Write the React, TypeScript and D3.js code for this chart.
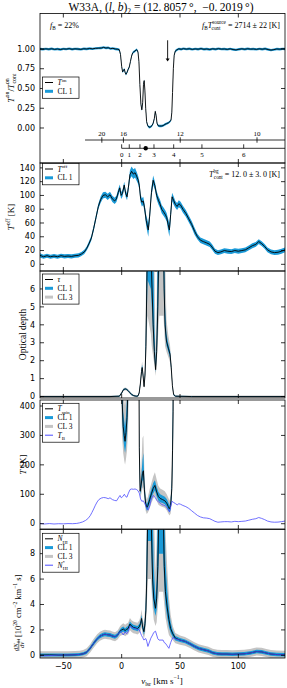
import React from 'react';
import * as d3 from 'd3';

// shared velocity axis
const vDomain = [-70, 140];
const vTicks = [-50, 0, 50, 100];

// T_on / T_on_cont : [v, value]
const tOn = [
  [-70, 1.0], [-67.5, 0.996], [-65, 1.002], [-62.5, 0.997], [-60, 1.003], [-57.5, 0.995], [-55, 1.0], [-52.5, 0.993],
  [-50, 1.001], [-47.5, 0.998], [-45, 1.004], [-42.5, 0.996], [-40, 1.002], [-37.5, 0.999], [-35, 0.995], [-32.5, 1.003],
  [-30, 1.0], [-27.5, 1.006], [-25, 1.002], [-22.5, 1.008], [-20, 1.01], [-17.5, 1.012], [-15.5, 1.02], [-13.5, 1.012],
  [-11.5, 1.016], [-9.5, 1.004], [-7.5, 1.008], [-5.5, 1.0], [-3.5, 0.996], [-2, 0.99], [-1, 0.93], [0, 0.78],
  [0.8, 0.71], [1.6, 0.73], [2.3, 0.745], [3, 0.7], [3.7, 0.68], [4.5, 0.7], [5.5, 0.74], [6.5, 0.77], [7.5, 0.84],
  [8.5, 0.91], [9.4, 0.95], [10.5, 0.965], [11.5, 0.975], [12.5, 0.99], [13.3, 0.985], [14, 0.96], [14.8, 0.84],
  [15.6, 0.55], [16.5, 0.3], [17.3, 0.23], [18, 0.32], [18.7, 0.55], [19.3, 0.6], [19.9, 0.48], [20.6, 0.25],
  [21.4, 0.08], [22.3, 0.03], [23.5, 0.01], [24.8, 0.015], [26, 0.03], [27, 0.06], [28, 0.12], [28.8, 0.21],
  [29.5, 0.16], [30.3, 0.06], [31.2, 0.03], [32.5, 0.025], [34, 0.025], [35.5, 0.03], [37, 0.045], [38.5, 0.055],
  [40, 0.065], [41.3, 0.08], [42.3, 0.1], [43, 0.2], [43.6, 0.45], [44.3, 0.75], [45, 0.92], [46, 0.975], [47.5, 0.99],
  [49, 1.002], [51, 0.996], [53, 1.004], [55.5, 0.998], [58, 1.003], [60.5, 0.995], [63, 1.001], [65.5, 0.997],
  [68, 1.004], [70.5, 0.996], [73, 1.0], [75.5, 0.994], [78, 1.002], [80.5, 0.997], [83, 1.004], [85.5, 0.998],
  [88, 1.0], [90.5, 0.995], [93, 1.002], [95.5, 0.993], [98, 0.988], [100.5, 0.996], [103, 1.002], [105.5, 0.996],
  [108, 1.003], [110.5, 0.998], [113, 1.0], [115.5, 0.995], [118, 1.002], [120.5, 0.997], [123, 1.003], [125.5, 0.993],
  [128, 0.986], [130.5, 0.992], [133, 1.0], [135.5, 0.997], [138, 1.002], [140, 1.0],
];
const tOnErr = 0.015;

// T_off [v, K, CL1 half width]
const tOff = [
  [-70, 13, 3], [-67, 11, 3], [-64, 12.5, 3], [-61, 11, 3], [-58, 12, 3], [-55, 11, 3], [-52, 12.5, 3], [-49, 11.5, 3],
  [-46, 12, 3], [-43, 11.5, 3], [-40, 12.5, 3], [-37, 13, 3], [-34.5, 15, 3], [-32, 18, 3], [-30, 23, 3], [-28, 30, 3.5],
  [-26, 38, 3.5], [-24, 52, 4], [-22, 68, 4], [-20, 84, 4], [-18, 94, 4.5], [-16, 100, 4.5], [-14, 101, 4.5],
  [-12, 98, 4.5], [-10, 101, 4.5], [-8, 95, 4.5], [-6, 92, 4.5], [-4.5, 95, 4.5], [-3, 104, 5], [-1.6, 111, 5],
  [-0.5, 100, 5], [0.7, 103, 5], [2.2, 115, 5], [3.4, 103, 5], [4.6, 98, 5], [5.8, 112, 5.5], [7.1, 130, 6.5],
  [8.5, 135, 7], [10, 131, 7], [11.5, 133, 7], [12.8, 128, 6.5], [14, 123, 6], [15.1, 115, 6], [16.2, 96, 6],
  [17.3, 90, 6], [18.5, 92, 6], [19.6, 82, 6], [21, 64, 8], [22.8, 50, 10], [24, 70, 8], [25.5, 104, 7], [27, 122, 7],
  [28.5, 114, 6], [30, 100, 6], [31.5, 93, 6], [32.8, 88, 6], [34.3, 80, 6], [36, 76, 6], [37.5, 72, 6], [38.6, 68, 6],
  [39.8, 58, 8], [40.9, 50, 10], [42, 72, 8], [43.2, 98, 6], [44.5, 93, 6], [46, 87, 5], [47.5, 84, 5], [49, 88, 5],
  [50.5, 86, 5], [52.5, 80, 5], [55, 74, 5], [57.5, 66, 5], [60, 58, 5], [62.5, 48, 5], [65, 40, 4], [67.5, 35, 4],
  [70, 33, 4], [73, 31, 4], [75.5, 29, 4], [77.5, 25, 4], [80, 19, 3.5], [82.5, 17, 3.5], [85, 18, 3.5], [88, 20, 3.5],
  [91, 19, 3.5], [94, 18.5, 3.5], [97, 20, 3.5], [100, 19, 3.5], [103, 20, 3.5], [106, 21, 3.5], [109, 24, 3.5],
  [112, 27, 3.5], [115, 29, 3.5], [117.5, 33, 3.5], [120, 30, 3.5], [122.5, 26, 3.5], [125, 21, 3.5], [128, 18, 3.5],
  [131, 17, 3.5], [134, 17.5, 3.5], [137, 19, 3.5], [140, 21, 3.5],
];

// optical depth [v, tau, CL1 lo, CL1 hi, CL3 lo, CL3 hi]
const tau = [
  [-70, 0, -0.03, 0.03, -0.06, 0.06], [-40, 0, -0.03, 0.03, -0.06, 0.06], [-10, 0, -0.03, 0.03, -0.06, 0.06],
  [-2, 0.02, -0.01, 0.05, -0.04, 0.08], [0, 0.2, 0.16, 0.24, 0.12, 0.28], [1.5, 0.38, 0.34, 0.42, 0.3, 0.46],
  [3, 0.43, 0.39, 0.47, 0.35, 0.51], [4.2, 0.4, 0.36, 0.44, 0.32, 0.48], [5.5, 0.33, 0.29, 0.37, 0.25, 0.41],
  [7, 0.22, 0.18, 0.26, 0.14, 0.3], [8.5, 0.12, 0.08, 0.16, 0.05, 0.19], [10, 0.06, 0.03, 0.09, 0, 0.12],
  [11.5, 0.03, 0, 0.06, -0.03, 0.09], [13, 0.02, -0.01, 0.05, -0.04, 0.08], [14, 0.04, 0.01, 0.07, -0.02, 0.1],
  [15, 0.2, 0.15, 0.25, 0.1, 0.3], [16, 0.7, 0.62, 0.8, 0.55, 0.9], [17, 1.4, 1.28, 1.55, 1.15, 1.7],
  [17.6, 1.62, 1.48, 1.78, 1.35, 1.95], [18.3, 1.2, 1.1, 1.32, 1.0, 1.45], [19.2, 0.55, 0.5, 0.62, 0.45, 0.7],
  [20, 1.2, 1.05, 1.45, 0.9, 1.8], [20.8, 2.8, 2.3, 4, 1.9, 6], [21.5, 6, 4.5, 9, 3.5, 12], [22.2, 9, 6.5, 12, 4.5, 12],
  [25, 9, 6, 12, 3.5, 12], [25.8, 6.5, 5, 12, 2.8, 12], [27, 4, 3.3, 9, 2.2, 12], [28, 2.5, 2.2, 4, 1.8, 8],
  [29.1, 1.5, 1.35, 1.8, 1.15, 2.3], [30, 2.5, 2.2, 3.5, 1.8, 5], [31, 5, 4, 9, 3, 12], [31.6, 7.5, 6, 12, 4, 12],
  [32.3, 9, 7, 12, 4.5, 12], [35.8, 9, 7, 12, 4.5, 12], [36.4, 6, 5, 9, 3.8, 12], [37.2, 4, 3.5, 5, 2.8, 8],
  [38.4, 3.1, 2.85, 3.5, 2.5, 4.3], [40, 2.7, 2.5, 2.95, 2.2, 3.4], [41.5, 2.35, 2.15, 2.55, 1.9, 2.85],
  [42.5, 1.6, 1.45, 1.75, 1.3, 1.9], [43.5, 0.6, 0.52, 0.68, 0.45, 0.75], [44.5, 0.12, 0.08, 0.16, 0.04, 0.2],
  [46, 0.02, -0.01, 0.05, -0.04, 0.08], [60, 0, -0.03, 0.03, -0.06, 0.06], [100, 0, -0.03, 0.03, -0.06, 0.06],
  [140, 0, -0.03, 0.03, -0.06, 0.06],
];

// spin temperature where defined [v, K, CL1 lo, CL1 hi, CL3 lo, CL3 hi]
const tSpinA = [
  [-0.8, 900, 700, 900, 500, 900], [0.3, 430, 370, 520, 300, 700], [1.3, 330, 290, 380, 240, 470],
  [2.2, 300, 260, 350, 215, 420], [2.9, 280, 240, 330, 200, 400], [3.7, 310, 265, 365, 220, 440],
  [4.6, 360, 310, 430, 250, 540], [5.5, 480, 400, 600, 320, 800], [6.3, 900, 700, 900, 500, 900],
];
const tSpinB = [
  [14.4, 900, 900, 900, 900, 900], [15.1, 260, 200, 340, 160, 450], [15.8, 110, 98, 125, 85, 145],
  [16.8, 135, 118, 158, 100, 190], [17.8, 170, 145, 215, 120, 290], [18.6, 180, 150, 240, 125, 300],
  [19.5, 115, 98, 140, 80, 175], [20.5, 70, 58, 84, 45, 100], [21.5, 55, 44, 67, 33, 82], [22.5, 62, 50, 75, 38, 92],
  [24, 82, 68, 98, 52, 118], [25.5, 102, 87, 118, 70, 138], [27, 120, 103, 138, 85, 160], [28.5, 130, 113, 148, 95, 175],
  [30, 108, 93, 126, 78, 150], [31.5, 92, 78, 108, 64, 128], [33, 86, 73, 100, 60, 120], [35, 82, 70, 96, 57, 115],
  [37, 78, 66, 92, 54, 110], [38.6, 70, 58, 84, 46, 100], [40, 58, 46, 72, 35, 88], [41, 50, 38, 62, 28, 78],
  [42, 62, 48, 78, 35, 100], [43, 120, 95, 150, 75, 200], [43.6, 250, 200, 330, 160, 450],
  [44.1, 380, 300, 500, 250, 700], [44.6, 900, 900, 900, 900, 900],
];

// brightness temperature [v, K]
const tB = [
  [-70, 1], [-66, -1], [-62, 0.5], [-58, -1], [-54, 0], [-50, -0.5], [-46, 0.5], [-42, 0], [-38.5, 1], [-36, 3],
  [-33.5, 6], [-31, 11], [-29, 17], [-27, 27], [-25.5, 38], [-24, 50], [-22.5, 63], [-21, 74], [-19.5, 82],
  [-17.5, 87], [-15.5, 89], [-13.5, 88], [-11.5, 85], [-10, 88], [-8, 82], [-6, 79], [-4.3, 78], [-2.8, 88],
  [-1.4, 96], [-0.3, 88], [0.9, 92], [2.3, 100], [3.5, 92], [4.5, 90], [5.8, 104], [7.2, 116], [8.5, 118], [10, 117],
  [11.5, 118], [12.8, 116], [14, 112], [15.1, 104], [16.2, 84], [17.3, 76], [18.5, 78], [19.6, 70], [21, 58],
  [22.6, 46], [24, 60], [25.5, 84], [27, 96], [28.6, 90], [30, 80], [31.5, 74], [33, 70], [34.5, 65], [36, 63],
  [37.5, 60], [38.8, 55], [40, 46], [41, 40], [42, 58], [43.2, 76], [44.6, 72], [46.2, 68], [47.6, 64], [49, 68],
  [50.5, 66], [52.5, 62], [55, 58], [57.5, 52], [60, 44], [62.5, 36], [65, 28], [67.5, 23], [70, 20], [73, 19],
  [75.5, 17], [78, 12], [80, 8], [82.5, 5], [85, 6], [88, 7], [91, 7], [94, 6], [97, 8], [100, 7], [103, 8], [106, 9],
  [109, 12], [112, 15], [115, 17], [117.5, 21], [120, 18], [122.5, 14], [125, 9], [128, 6], [131, 5], [134, 5.5],
  [137, 7], [140, 9],
];

// column density per velocity [v, 1e20, CL1 lo, CL1 hi, CL3 lo, CL3 hi]
const nHI = [
  [-70, 0.02, -0.1, 0.14, -0.28, 0.32], [-62, 0.03, -0.09, 0.15, -0.27, 0.33], [-54, 0.02, -0.1, 0.14, -0.28, 0.32],
  [-46, 0.03, -0.09, 0.15, -0.27, 0.33], [-40, 0.04, -0.08, 0.16, -0.26, 0.34], [-36, 0.07, -0.05, 0.19, -0.23, 0.37],
  [-33, 0.12, 0, 0.24, -0.18, 0.42], [-30, 0.24, 0.11, 0.37, -0.08, 0.56], [-27, 0.55, 0.41, 0.69, 0.22, 0.88],
  [-25, 0.82, 0.67, 0.97, 0.48, 1.16], [-23, 1.07, 0.92, 1.22, 0.72, 1.42], [-21, 1.3, 1.15, 1.45, 0.95, 1.65],
  [-18.6, 1.5, 1.35, 1.65, 1.15, 1.85], [-16, 1.62, 1.47, 1.77, 1.27, 1.97], [-14.3, 1.66, 1.51, 1.81, 1.31, 2.01],
  [-12, 1.62, 1.47, 1.77, 1.27, 1.97], [-10, 1.6, 1.45, 1.75, 1.25, 1.95], [-8, 1.52, 1.37, 1.67, 1.17, 1.87],
  [-5.7, 1.46, 1.31, 1.61, 1.11, 1.81], [-3.5, 1.6, 1.45, 1.75, 1.25, 1.95], [-1.4, 1.9, 1.74, 2.06, 1.52, 2.28],
  [0, 2.0, 1.82, 2.18, 1.58, 2.42], [1.4, 2.07, 1.88, 2.26, 1.62, 2.52], [3, 1.95, 1.76, 2.14, 1.5, 2.4],
  [4.3, 2.05, 1.85, 2.25, 1.6, 2.5], [5.5, 2.1, 1.9, 2.3, 1.64, 2.56], [7.1, 2.46, 2.25, 2.67, 1.98, 2.94],
  [8.5, 2.3, 2.1, 2.5, 1.84, 2.76], [10, 2.2, 2.0, 2.4, 1.74, 2.66], [12, 2.15, 1.95, 2.35, 1.7, 2.6],
  [13.5, 2.1, 1.9, 2.3, 1.64, 2.56], [15.1, 2.25, 2.03, 2.47, 1.75, 2.75], [16.2, 2.5, 2.25, 2.75, 1.9, 3.1],
  [17.1, 2.9, 2.6, 3.2, 2.2, 3.6], [18, 2.2, 1.95, 2.45, 1.65, 2.8], [19.1, 1.86, 1.6, 2.15, 1.3, 2.5],
  [20, 2.5, 2.1, 3.0, 1.7, 3.6], [20.8, 3.55, 3.0, 4.6, 2.4, 6.0], [21.5, 6, 4.8, 9, 3.8, 12], [22.5, 12, 9, 15, 6, 15],
  [25, 12, 9, 15, 6, 15], [26.5, 6, 4.8, 12, 3.8, 15], [27.5, 4.5, 3.7, 7, 2.8, 12], [29, 3.7, 3.1, 4.5, 2.3, 6.5],
  [30, 4.5, 3.6, 6, 2.6, 9], [31, 7, 5.5, 12, 3.8, 15], [32, 12, 8, 15, 5, 15], [35.5, 12, 8, 15, 5, 15],
  [36.5, 7, 5.5, 12, 4, 15], [37.5, 5, 4.0, 7.5, 3.0, 10], [39, 3.8, 3.0, 5.2, 2.2, 7], [40.5, 2.8, 2.2, 3.6, 1.6, 4.6],
  [42, 2.1, 1.75, 2.6, 1.4, 3.2], [43.8, 1.7, 1.45, 1.95, 1.2, 2.3], [46, 1.35, 1.17, 1.53, 0.95, 1.75],
  [50, 1.2, 1.04, 1.36, 0.84, 1.56], [54.3, 1.1, 0.95, 1.25, 0.76, 1.44], [58.6, 0.9, 0.75, 1.05, 0.57, 1.23],
  [62, 0.72, 0.57, 0.87, 0.4, 1.04], [66, 0.55, 0.4, 0.7, 0.23, 0.87], [70, 0.45, 0.3, 0.6, 0.13, 0.77],
  [74.3, 0.35, 0.2, 0.5, 0.03, 0.67], [78, 0.2, 0.06, 0.34, -0.12, 0.52], [82, 0.12, -0.02, 0.26, -0.2, 0.44],
  [86, 0.1, -0.04, 0.24, -0.22, 0.42], [90, 0.1, -0.04, 0.24, -0.22, 0.42], [95, 0.08, -0.06, 0.22, -0.24, 0.4],
  [100, 0.1, -0.04, 0.24, -0.22, 0.42], [105, 0.12, -0.02, 0.26, -0.2, 0.44], [110, 0.18, 0.04, 0.32, -0.14, 0.5],
  [115.7, 0.3, 0.16, 0.44, -0.02, 0.62], [120, 0.27, 0.13, 0.41, -0.05, 0.59], [124, 0.18, 0.04, 0.32, -0.14, 0.5],
  [128, 0.1, -0.04, 0.24, -0.22, 0.42], [133, 0.06, -0.08, 0.2, -0.26, 0.38], [140, 0.05, -0.09, 0.19, -0.27, 0.37],
];

// optically thin column density [v, 1e20]
const nHIThin = [
  [-70, -0.04], [-62, -0.02], [-54, 0.02], [-46, 0.03], [-40, 0.04], [-36, 0.07], [-33, 0.12], [-30, 0.24],
  [-27, 0.55], [-25, 0.82], [-23, 1.07], [-21, 1.3], [-18.6, 1.5], [-16, 1.62], [-14.3, 1.66], [-12, 1.62],
  [-10, 1.6], [-8, 1.52], [-5.7, 1.46], [-3.5, 1.6], [-1.4, 1.88], [0, 1.8], [1.4, 1.6], [3, 1.85], [4.3, 1.7],
  [5.5, 1.85], [7.1, 2.3], [8.5, 2.2], [10, 2.15], [12, 2.1], [13.5, 2.05], [15.1, 2.0], [16.2, 1.75], [17.1, 1.55],
  [18, 1.4], [19.1, 1.2], [20, 1.3], [20.8, 1.3], [21.5, 1.1], [22.5, 0.7], [25, 1.35], [26.5, 1.6], [27.5, 1.8],
  [29, 1.9], [30, 1.6], [31, 1.3], [32, 1.2], [35.5, 1.2], [36.5, 1.0], [37.5, 0.95], [39, 0.75], [40.5, 0.55],
  [42, 1.0], [43.8, 1.4], [46, 1.3], [50, 1.2], [54.3, 1.1], [58.6, 0.9], [62, 0.72], [66, 0.55], [70, 0.45],
  [74.3, 0.35], [78, 0.2], [82, 0.12], [86, 0.1], [90, 0.1], [95, 0.08], [100, 0.1], [105, 0.12], [110, 0.18],
  [115.7, 0.3], [120, 0.27], [124, 0.18], [128, 0.1], [133, 0.06], [140, 0.05],
];

// distance scales: label and matching v_lsr
const rGalLabels = ['20', '16', '12', '10'];
const rGalV = [-17, 1.5, 50.2, 116];
const rGalStartV = -31.4;
const dSunLabels = ['0', '1', '2', '3', '4', '5', '6'];
const dSunV = [0, 6.5, 15.7, 27.7, 44.6, 68.8, 104.6];
const sourceV = 20.6;
const tangentV = 39.4;

const BLUE = '#1a9ad8';
const GREY = '#c4c4c4';
const PURPLE = '#4b4bff';

const X0 = 40;
const X1 = 285;
const x = d3.scaleLinear().domain(vDomain).range([X0, X1]);

type Seg = string | { b: string; it?: boolean; sup?: string; sub?: string };
// small LaTeX-like helper: italic base with stacked super/subscripts
function mt(segs: Seg[], fs: number) {
  const s = fs * 0.65;
  const cw = s * 0.46;
  const out: React.ReactNode[] = [];
  let off = 0;
  let pend = 0;
  segs.forEach((g, i) => {
    const seg = typeof g === 'string' ? { b: g, it: false } : g;
    out.push(
      <tspan key={`b${i}`} dx={pend || undefined} dy={off || undefined} fontSize={fs}
        fontStyle={seg.it === false ? 'normal' : 'italic'}>{seg.b}</tspan>
    );
    off = 0;
    pend = 0;
    if (seg.sup) {
      out.push(<tspan key={`p${i}`} dy={-fs * 0.48} fontSize={s} fontStyle="normal">{seg.sup}</tspan>);
      off = fs * 0.48;
    }
    if (seg.sub) {
      const dx = seg.sup ? -seg.sup.length * cw : 0;
      out.push(<tspan key={`s${i}`} dx={dx || undefined} dy={off + fs * 0.3} fontSize={s} fontStyle="normal">{seg.sub}</tspan>);
      off = -fs * 0.3;
      if (seg.sup && seg.sup.length > seg.sub.length) pend = (seg.sup.length - seg.sub.length) * cw + 0.8;
    }
  });
  return out;
}

type Item = { kind: 'line' | 'band'; color: string; label: Seg[] };
function Legend({ top, items }: { top: number; items: Item[] }) {
  const h = 12.5 + 8.8 * (items.length - 1);
  return (
    <g>
      <rect x={42.5} y={top} width={36.5} height={h} fill="#fff" stroke="#000" strokeWidth={0.7} />
      {items.map((it, i) => {
        const yy = top + 5.5 + 8.8 * i;
        return (
          <g key={i}>
            <line x1={45} x2={53} y1={yy} y2={yy} stroke={it.color} strokeWidth={it.kind === 'band' ? 3 : 1} />
            <text x={57.5} y={yy + 2.6} fontSize={7.5}>{mt(it.label, 7.5)}</text>
          </g>
        );
      })}
    </g>
  );
}

function Frame({ y, top, bottom, ticks, fmt }: any) {
  return (
    <g stroke="#000" strokeWidth={0.8}>
      <rect x={X0} y={top} width={X1 - X0} height={bottom - top} fill="none" />
      {ticks.map((t: number) => (
        <g key={t}>
          <line x1={X0} x2={X0 + 4} y1={y(t)} y2={y(t)} />
          <line x1={X1 - 4} x2={X1} y1={y(t)} y2={y(t)} />
          <text x={35} y={y(t)} dy="0.34em" textAnchor="end" stroke="none" fill="#000"
            fontFamily="DejaVu Sans" fontSize={8}>{fmt(t)}</text>
        </g>
      ))}
      {vTicks.map(v => (
        <g key={v}>
          <line x1={x(v)} x2={x(v)} y1={top} y2={top + 4} />
          <line x1={x(v)} x2={x(v)} y1={bottom - 4} y2={bottom} />
        </g>
      ))}
    </g>
  );
}

function YLabel({ cx, cy, segs, fs = 9 }: { cx: number; cy: number; segs: Seg[]; fs?: number }) {
  return (
    <text transform={`translate(${cx},${cy}) rotate(-90)`} textAnchor="middle" fontSize={fs}>{mt(segs, fs)}</text>
  );
}

const lineOf = (y: any, k = 1) => d3.line<number[]>().x(d => x(d[0])).y(d => y(d[k]));
const areaOf = (y: any, lo: number, hi: number) =>
  d3.area<number[]>().x(d => x(d[0])).y0(d => y(d[lo])).y1(d => y(d[hi]));

export default function App() {
  const y1 = d3.scaleLinear().domain([-0.443, 1.449]).range([163, 13.5]);
  const y2 = d3.scaleLinear().domain([-9.7, 147.1]).range([271, 163]);
  const y3 = d3.scaleLinear().domain([-0.08, 7.0]).range([398, 271]);
  const y4 = d3.scaleLinear().domain([-18, 420.4]).range([529, 400]);
  const y5 = d3.scaleLinear().domain([-0.21, 9.9]).range([658, 529.5]);

  const onBand = d3.area<number[]>().x(d => x(d[0])).y0(d => y1(d[1] - tOnErr)).y1(d => y1(d[1] + tOnErr));
  const offBand = d3.area<number[]>().x(d => x(d[0])).y0(d => y2(d[1] - d[2])).y1(d => y2(d[1] + d[2]));

  const rY = y1(-0.152);
  const dY = y1(-0.257);
  const fmt2 = d3.format('.2f');
  const fmtD = d3.format('d');

  return (
    <svg width={287} height={688} style={{ position: 'absolute', left: 0, top: 0, background: '#fff' }}
      fontFamily="Liberation Serif">
      <defs>
        <clipPath id="c1"><rect x={X0} y={13.5} width={X1 - X0} height={149.5} /></clipPath>
        <clipPath id="c2"><rect x={X0} y={163} width={X1 - X0} height={108} /></clipPath>
        <clipPath id="c3"><rect x={X0} y={271} width={X1 - X0} height={127} /></clipPath>
        <clipPath id="c4"><rect x={X0} y={400} width={X1 - X0} height={129} /></clipPath>
        <clipPath id="c5"><rect x={X0} y={529.5} width={X1 - X0} height={128.5} /></clipPath>
      </defs>

      <text x={161} y={10.5} textAnchor="middle" fontSize={11.5}>
        {mt(['W33A, (', { b: 'l' }, ', ', { b: 'b' }, { b: ')', it: false, sub: '2' },
          ' = (12.\u20098057\u2009°,\u2002\u22120.\u20092019\u2009°)'], 11.5)}
      </text>

      {/* panel 1 */}
      <g clipPath="url(#c1)">
        <path d={onBand(tOn) || ''} fill={BLUE} />
        <path d={lineOf(y1)(tOn) || ''} fill="none" stroke="#000" strokeWidth={0.9} />
      </g>
      <Frame y={y1} top={13.5} bottom={163} ticks={[0, 0.25, 0.5, 0.75, 1]} fmt={fmt2} />
      <line x1={x(tangentV)} x2={x(tangentV)} y1={y1(1.11)} y2={y1(0.87)} stroke="#000" strokeWidth={0.9} />
      <path d={`M${x(tangentV) - 2},${y1(0.88)} L${x(tangentV) + 2},${y1(0.88)} L${x(tangentV)},${y1(0.84)} Z`} fill="#000" />
      <g stroke="#000" strokeWidth={0.8}>
        <line x1={x(rGalStartV)} x2={X1} y1={rY} y2={rY} />
        {rGalV.map((v, i) => (
          <g key={i}>
            <line x1={x(v)} x2={x(v)} y1={rY - 2.7} y2={rY + 2.7} />
            <text x={x(v)} y={rY - 4} textAnchor="middle" fontSize={7} stroke="none" fill="#000">{rGalLabels[i]}</text>
          </g>
        ))}
        <line x1={x(dSunV[0])} x2={X1} y1={dY} y2={dY} />
        {dSunV.map((v, i) => (
          <g key={i}>
            <line x1={x(v)} x2={x(v)} y1={dY - 4} y2={dY} />
            <text x={x(v)} y={dY + 8.5} textAnchor="middle" fontSize={7} stroke="none" fill="#000">{dSunLabels[i]}</text>
          </g>
        ))}
      </g>
      <circle cx={x(sourceV)} cy={dY} r={2.2} fill="#000" />
      <text x={50} y={27.5} fontSize={8}>{mt([{ b: 'f', sub: 'B' }, ' = 22%'], 8)}</text>
      <text x={280} y={27.5} fontSize={8} textAnchor="end">
        {mt([{ b: 'f', sub: 'B' }, { b: 'T', sup: 'source', sub: 'cont' }, ' = 2714 ± 22 [K]'], 8)}
      </text>
      <Legend top={77} items={[
        { kind: 'line', color: '#000', label: [{ b: 'T', sup: 'on' }] },
        { kind: 'band', color: BLUE, label: ['CL 1'] },
      ]} />
      <YLabel cx={13.5} cy={88} segs={[{ b: 'T', sup: 'on' }, '/', { b: 'T', sup: 'on', sub: 'cont' }]} />

      {/* panel 2 */}
      <g clipPath="url(#c2)">
        <path d={offBand(tOff) || ''} fill={BLUE} />
        <path d={lineOf(y2)(tOff) || ''} fill="none" stroke="#000" strokeWidth={0.9} />
      </g>
      <Frame y={y2} top={163} bottom={271} ticks={d3.range(0, 141, 20)} fmt={fmtD} />
      <text x={280} y={177} fontSize={8} textAnchor="end">
        {mt([{ b: 'T', sup: 'bg', sub: 'cont' }, ' = 12.\u20090 ± 3.\u20090 [K]'], 8)}
      </text>
      <Legend top={163.5} items={[
        { kind: 'line', color: '#000', label: [{ b: 'T', sup: 'off' }] },
        { kind: 'band', color: BLUE, label: ['CL 1'] },
      ]} />
      <YLabel cx={14} cy={217} segs={[{ b: 'T', sup: 'off' }, ' [K]']} />

      {/* panel 3 */}
      <g clipPath="url(#c3)">
        <path d={areaOf(y3, 4, 5)(tau) || ''} fill={GREY} />
        <path d={areaOf(y3, 2, 3)(tau) || ''} fill={BLUE} />
        <path d={lineOf(y3)(tau) || ''} fill="none" stroke="#000" strokeWidth={0.9} />
      </g>
      <Frame y={y3} top={271} bottom={398} ticks={d3.range(0, 7)} fmt={fmtD} />
      <Legend top={274} items={[
        { kind: 'line', color: '#000', label: [{ b: 'τ' }] },
        { kind: 'band', color: BLUE, label: ['CL 1'] },
        { kind: 'band', color: GREY, label: ['CL 3'] },
      ]} />
      <YLabel cx={25.5} cy={334.5} segs={['Optical depth']} fs={9.5} />

      {/* panel 4 */}
      <g clipPath="url(#c4)">
        {[tSpinA, tSpinB].map((s, i) => <path key={`g${i}`} d={areaOf(y4, 4, 5)(s) || ''} fill={GREY} />)}
        {[tSpinA, tSpinB].map((s, i) => <path key={`b${i}`} d={areaOf(y4, 2, 3)(s) || ''} fill={BLUE} />)}
        {[tSpinA, tSpinB].map((s, i) => (
          <path key={`l${i}`} d={lineOf(y4)(s) || ''} fill="none" stroke="#000" strokeWidth={0.9} />
        ))}
        <path d={lineOf(y4)(tB) || ''} fill="none" stroke={PURPLE} strokeWidth={0.8} />
      </g>
      <Frame y={y4} top={400} bottom={529} ticks={[0, 100, 200, 300, 400]} fmt={fmtD} />
      <Legend top={403.3} items={[
        { kind: 'line', color: '#000', label: [{ b: 'T', sub: 'spin' }] },
        { kind: 'band', color: BLUE, label: ['CL 1'] },
        { kind: 'band', color: GREY, label: ['CL 3'] },
        { kind: 'line', color: PURPLE, label: [{ b: 'T', sub: 'B' }] },
      ]} />
      <YLabel cx={26} cy={464.5} segs={[{ b: 'T' }, ' [K]']} />

      {/* panel 5 */}
      <g clipPath="url(#c5)">
        <path d={areaOf(y5, 4, 5)(nHI) || ''} fill={GREY} />
        <path d={areaOf(y5, 2, 3)(nHI) || ''} fill={BLUE} />
        <path d={lineOf(y5)(nHI) || ''} fill="none" stroke="#000" strokeWidth={0.9} />
        <path d={lineOf(y5)(nHIThin) || ''} fill="none" stroke={PURPLE} strokeWidth={0.8} />
      </g>
      <Frame y={y5} top={529.5} bottom={658} ticks={[0, 2, 4, 6, 8]} fmt={fmtD} />
      <Legend top={533.3} items={[
        { kind: 'line', color: '#000', label: [{ b: 'N', sub: 'HI' }] },
        { kind: 'band', color: BLUE, label: ['CL 1'] },
        { kind: 'band', color: GREY, label: ['CL 3'] },
        { kind: 'line', color: PURPLE, label: [{ b: 'N', sup: '*', sub: 'HI' }] },
      ]} />
      <g transform="translate(16,593) rotate(-90)">
        <text x={-52} y={1.6} textAnchor="middle" fontSize={6.5}>{mt([{ b: 'dN', sub: 'HI' }], 6.5)}</text>
        <line x1={-58} x2={-46} y1={2.8} y2={2.8} stroke="#000" strokeWidth={0.5} />
        <text x={-52} y={8} textAnchor="middle" fontSize={6.5}>{mt([{ b: 'dv' }], 6.5)}</text>
        <text x={-44} y={5} fontSize={8.5}>
          {mt([{ b: '[10', it: false, sup: '20' }, { b: ' cm', it: false, sup: '\u22122' },
            { b: ' km', it: false, sup: '\u22121' }, ' s]'], 8.5)}
        </text>
      </g>

      {vTicks.map(v => (
        <text key={v} x={x(v)} y={668.5} textAnchor="middle" fontFamily="DejaVu Sans" fontSize={8}>{fmtD(v)}</text>
      ))}
      <text x={162} y={683.5} textAnchor="middle" fontSize={9}>
        {mt([{ b: 'v', sub: 'lsr' }, { b: ' [km s', it: false, sup: '\u22121' }, ']'], 9)}
      </text>
    </svg>
  );
}
